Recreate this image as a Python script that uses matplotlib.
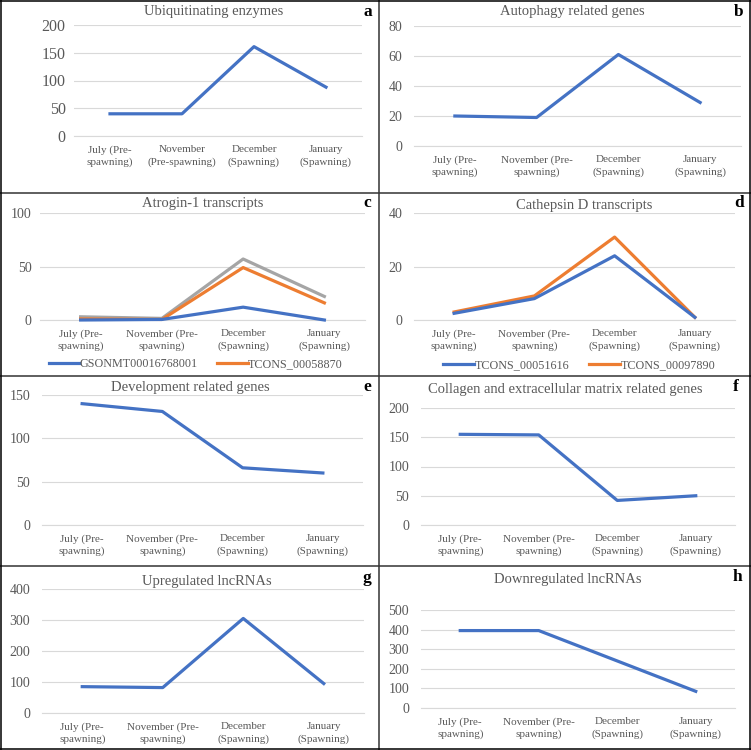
import matplotlib
matplotlib.use("Agg")
import matplotlib.pyplot as plt
from matplotlib.lines import Line2D

plt.rcParams['font.family'] = ['Liberation Serif', 'DejaVu Serif']

W, H = 751, 750

months = ["July (Pre-\nspawning)", "November (Pre-\nspawning)", "December\n(Spawning)", "January\n(Spawning)"]
months_a = ["July (Pre-\nspawning)", "November\n(Pre-spawning)", "December\n(Spawning)", "January\n(Spawning)"]

ubiquitinating = [40, 40, 161, 88]
autophagy = [20, 19, 61, 29]
atrogin_gson = [0, 0.5, 12, 0]
atrogin_tcons = [1, 0.5, 49, 16]
atrogin_total = [3, 1.5, 57, 22]
cathepsin_51616 = [2.5, 8, 24, 1]
cathepsin_97890 = [3, 9, 31, 1]
development = [140, 131, 66, 60]
collagen = [155, 154, 42, 50]
up_lncrna = [85, 82, 305, 95]
down_lncrna = [395, 395, 240, 85]

BLUE = "#4472C4"
ORANGE = "#ED7D31"
GRAY = "#A5A5A5"
TEXT = "#595959"
GRID = "#D9D9D9"


def px_axes(fig, xl, yt, xr, yb):
    return fig.add_axes([xl / W, 1 - yb / H, (xr - xl) / W, (yb - yt) / H])


def fig_line(fig, x0, y0, x1, y1, color="#333333", lw=1.1):
    fig.add_artist(Line2D([x0 / W, x1 / W], [1 - y0 / H, 1 - y1 / H], color=color, lw=lw))


def panel(fig, box, series, ymax, step, title, tpos, letter, lpos, labels=months,
          ysize=10, ypad=8.5):
    ax = px_axes(fig, *box)
    x = range(len(labels))
    for vals, color, lab in series:
        ax.plot(x, vals, color=color, lw=2.3, label=lab, clip_on=False,
                solid_joinstyle='round', zorder=3)
    ax.set_xlim(-0.5, len(labels) - 0.5)
    ax.set_ylim(0, ymax)
    ax.set_yticks(range(0, ymax + 1, step))
    ax.set_xticks(list(x))
    ax.set_xticklabels(labels, fontsize=8, color=TEXT, linespacing=1.4)
    for s in ax.spines.values():
        s.set_visible(False)
    ax.tick_params(axis='x', length=0, pad=6.5)
    ax.tick_params(axis='y', length=0, pad=ypad, labelsize=ysize, labelcolor=TEXT)
    ax.yaxis.grid(True, color=GRID, lw=0.8)
    ax.axhline(0, color=GRID, lw=0.8, clip_on=False, zorder=1)
    ax.set_axisbelow(True)
    fig.text(tpos[0] / W, 1 - tpos[1] / H, title, ha='center', va='center',
             fontsize=10.5, color=TEXT)
    fig.text(lpos[0] / W, 1 - lpos[1] / H, letter, ha='center', va='center',
             fontsize=12.5, fontweight='bold', color='black')
    return ax


fig = plt.figure(figsize=(W / 100, H / 100), dpi=100)

panel(fig, (74, 25, 362, 136), [(ubiquitinating, BLUE, None)], 200, 50,
      "Ubiquitinating enzymes", (214, 12), "a", (368, 12), labels=months_a, ysize=11.5, ypad=6)
panel(fig, (414, 26, 741, 146), [(autophagy, BLUE, None)], 80, 20,
      "Autophagy related genes", (572, 12), "b", (739, 12))

ax_c = panel(fig, (40, 213, 365, 320),
             [(atrogin_total, GRAY, '_nolegend_'),
              (atrogin_tcons, ORANGE, 'TCONS_00058870'),
              (atrogin_gson, BLUE, 'GSONMT00016768001')],
             100, 50, "Atrogin-1 transcripts", (203, 204), "c", (367, 203), ypad=6)
h, l = ax_c.get_legend_handles_labels()
ax_c.legend(h[::-1], l[::-1], ncol=2, frameon=False, fontsize=8.7, loc='center left',
            bbox_to_anchor=(43 / W, 1 - 364 / H), bbox_transform=fig.transFigure,
            borderpad=0, handlelength=2.5, handletextpad=0.05, columnspacing=1.6,
            labelcolor=TEXT)

ax_d = panel(fig, (414, 213, 735, 320),
             [(cathepsin_97890, ORANGE, 'TCONS_00097890'),
              (cathepsin_51616, BLUE, 'TCONS_00051616')],
             40, 20, "Cathepsin D transcripts", (584, 205), "d", (739, 203))
h, l = ax_d.get_legend_handles_labels()
ax_d.legend(h[::-1], l[::-1], ncol=2, frameon=False, fontsize=8.7, loc='center left',
            bbox_to_anchor=(437 / W, 1 - 365 / H), bbox_transform=fig.transFigure,
            borderpad=0, handlelength=2.6, handletextpad=0.05, columnspacing=1.6,
            labelcolor=TEXT)

panel(fig, (42, 395, 363, 525), [(development, BLUE, None)], 150, 50,
      "Development related genes", (190, 387), "e", (367, 387))
panel(fig, (421, 408, 735, 525), [(collagen, BLUE, None)], 200, 50,
      "Collagen and extracellular matrix related genes", (565, 389), "f", (736, 387))
panel(fig, (42, 589, 364, 713), [(up_lncrna, BLUE, None)], 400, 100,
      "Upregulated lncRNAs", (207, 581), "g", (367, 578))
panel(fig, (421, 610, 735, 708), [(down_lncrna, BLUE, None)], 500, 100,
      "Downregulated lncRNAs", (568, 579), "h", (737, 577))

# panel borders
fig_line(fig, 379, 0, 379, H)
for yb in [193, 376, 566]:
    fig_line(fig, 0, yb, W, yb)
fig_line(fig, 1, 0, 1, H, color='black')
fig_line(fig, W - 1, 0, W - 1, H, color='black')
fig_line(fig, 0, 1, W, 1, color='black')
fig_line(fig, 0, H - 1, W, H - 1, color='black')

plt.savefig("out.png", dpi=100)
